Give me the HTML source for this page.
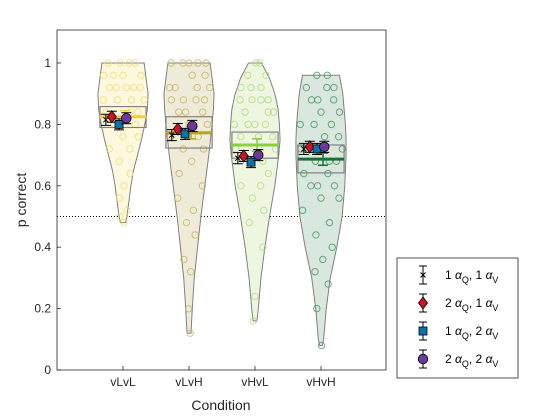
<!DOCTYPE html>
<html><head><meta charset="utf-8"><style>
body{margin:0;background:#fff;}
svg{display:block;font-family:"Liberation Sans",sans-serif;}
</style></head><body>
<svg id="c" width="560" height="420">
<rect x="0" y="0" width="560" height="420" fill="#fff"/>
<g id="plot"></g>
<rect x="57" y="30" width="329" height="340" fill="none" stroke="#262626" stroke-width="0.8"/>
<text x="26" y="200" font-size="14" fill="#262626" text-anchor="middle" transform="rotate(-90 26 200)">p correct</text>
<text x="221" y="410" font-size="14" fill="#262626" text-anchor="middle">Condition</text>
<g>
<rect x="397" y="258" width="121" height="120" fill="#fff" stroke="#262626" stroke-width="0.8"/>
<g id="leg"></g>
</g>
</svg>
<script>
const categories=["vLvL","vLvH","vHvL","vHvH"];
const meanLine=[0.825,0.773,0.733,0.687];
const boxTop=[0.858,0.825,0.775,0.733];
const boxBot=[0.79,0.723,0.69,0.642];
const s1=[0.815,0.765,0.69,0.72];
const s2=[0.825,0.785,0.697,0.727];
const s3=[0.80,0.769,0.677,0.72];
const s4=[0.82,0.795,0.70,0.727];
const errHalf=0.018;
const yTicks=[0,0.2,0.4,0.6,0.8,1];
const chance=0.5;
const vLevels=[[1.0,0.95,0.9,0.85,0.8,0.75,0.7,0.65,0.6,0.55,0.5,0.48],
[1.0,0.95,0.9,0.85,0.8,0.7,0.6,0.5,0.4,0.3,0.2,0.12],
[1.0,0.95,0.9,0.85,0.8,0.75,0.7,0.6,0.5,0.4,0.3,0.2,0.16],
[0.96,0.9,0.85,0.8,0.75,0.7,0.6,0.5,0.4,0.3,0.2,0.1,0.08]];
const vWidths=[[0.32,0.35,0.38,0.37,0.33,0.28,0.22,0.16,0.12,0.09,0.06,0.04],
[0.32,0.35,0.38,0.37,0.35,0.3,0.24,0.18,0.13,0.08,0.05,0.03],
[0.1,0.22,0.3,0.35,0.37,0.38,0.36,0.3,0.22,0.15,0.09,0.05,0.03],
[0.28,0.33,0.35,0.37,0.38,0.38,0.36,0.32,0.24,0.14,0.08,0.04,0.02]];
const ptsV=[[1,1,1,1,0.96,0.96,0.96,0.96,0.92,0.92,0.92,0.92,0.92,0.88,0.88,0.88,0.88,0.84,0.84,0.84,0.8,0.8,0.8,0.76,0.76,0.72,0.72,0.68,0.64,0.6,0.56,0.52,0.5,0.48],
[1,1,1,1,1,0.96,0.96,0.92,0.92,0.92,0.92,0.88,0.88,0.88,0.88,0.84,0.84,0.84,0.8,0.8,0.76,0.76,0.72,0.72,0.68,0.64,0.6,0.56,0.52,0.48,0.44,0.36,0.32,0.2,0.12],
[1,1,0.96,0.96,0.92,0.92,0.92,0.88,0.88,0.88,0.88,0.84,0.84,0.84,0.8,0.8,0.8,0.8,0.76,0.76,0.76,0.72,0.72,0.68,0.68,0.64,0.6,0.6,0.56,0.52,0.48,0.4,0.24,0.16],
[0.96,0.96,0.92,0.92,0.92,0.88,0.88,0.88,0.84,0.84,0.8,0.8,0.8,0.76,0.76,0.72,0.72,0.72,0.68,0.68,0.68,0.64,0.64,0.6,0.6,0.6,0.56,0.56,0.52,0.48,0.44,0.4,0.36,0.32,0.28,0.2,0.08]];
const jitter=[-0.25,0.1,-0.05,0.2,-0.15,0.28,0.0,-0.3,0.15,-0.1,0.25,0.05,-0.2,0.3,-0.28,0.12,-0.08,0.22];
const fills=["#fdf8de","#efebd9","#eef6e0","#d9e8de"];
const ptCol=["#f2dc70","#c8b460","#b0dc80","#4a9460"];
const mCol=["#f0d030","#b8a020","#8cd040","#1a7030"];
const X=v=>57+v*66;
const Y=v=>370-v*307;
const NS="http://www.w3.org/2000/svg";
const plot=document.getElementById('plot');
function mk(t,a,p){const e=document.createElementNS(NS,t);for(const k in a)e.setAttribute(k,a[k]);(p||plot).appendChild(e);return e;}
yTicks.forEach(t=>{
 const l=mk('line',{x1:57,x2:61,y1:Y(t),y2:Y(t),stroke:'#262626','stroke-width':0.8});
 
 
 const tx=mk('text',{x:51,y:Y(t)+4,'font-size':12,fill:'#262626','text-anchor':'end'});
 tx.textContent=String(t);
 
 
});
const ch=mk('line',{x1:57,x2:386,y1:Y(chance),y2:Y(chance),stroke:'#000','stroke-dasharray':'1 2','stroke-width':1});


categories.forEach((c,i)=>{
 const cx=i+1;
 const L=vLevels[i],W=vWidths[i];
 let d='M'+X(cx-W[0])+' '+Y(L[0]);
 for(let k=0;k<L.length;k++)d+=' L'+X(cx+W[k])+' '+Y(L[k]);
 for(let k=L.length-1;k>=0;k--)d+=' L'+X(cx-W[k])+' '+Y(L[k]);
 d+='Z';
 const v=mk('path',{d:d,fill:fills[i],stroke:'#808080','stroke-width':1});
 
 
 ptsV[i].forEach((p,k)=>{
  let j=jitter[(k+i*5)%jitter.length];
  let w=0.05;for(let q=0;q<L.length-1;q++){if(p<=L[q]&&p>=L[q+1]){w=W[q+1]+(W[q]-W[q+1])*(p-L[q+1])/(L[q]-L[q+1]);}}
  if(p>=L[0])w=W[0];
  const cc=mk('circle',{cx:X(cx+j*w/0.3*0.85),cy:Y(p),r:3.2,fill:'none',stroke:ptCol[i],'stroke-width':1,opacity:0.8});
  
  
 });
 const bx=mk('rect',{x:X(cx-0.35),y:Y(boxTop[i]),width:0.7*66,height:Y(boxBot[i])-Y(boxTop[i]),fill:'none',stroke:'#808080','stroke-width':1.2});
 
 
 const ml=mk('line',{x1:X(cx-0.35),x2:X(cx+0.35),y1:Y(meanLine[i]),y2:Y(meanLine[i]),stroke:mCol[i],'stroke-width':3});
 
 
 const ex=X(cx+0.03);
 const eb=mk('path',{d:`M${ex} ${Y(meanLine[i]+0.02)}V${Y(meanLine[i]-0.02)}M${ex-5} ${Y(meanLine[i]+0.02)}h10M${ex-5} ${Y(meanLine[i]-0.02)}h10`,stroke:mCol[i],'stroke-width':1.5,fill:'none'});
 
 
 const sers=[s1,s2,s3,s4];const offs=[-0.26,-0.17,-0.06,0.05];
 sers.forEach((s,k)=>{
  const px=X(cx+offs[k]),py=Y(s[i]);
  const e=mk('path',{d:`M${px} ${Y(s[i]+errHalf)}V${Y(s[i]-errHalf)}M${px-5} ${Y(s[i]+errHalf)}h10M${px-5} ${Y(s[i]-errHalf)}h10`,stroke:'#000','stroke-width':1,fill:'none'});
  
  
  drawMarker(k,px,py,plot);
 });
 const t=mk('text',{x:X(cx),y:386,'font-size':12,fill:'#262626','text-anchor':'middle'});
 t.textContent=c;
 
 
 const tk=mk('line',{x1:X(cx),x2:X(cx),y1:370,y2:366,stroke:'#262626','stroke-width':0.8});
 
 
});
function drawMarker(k,px,py,par){
 let m;
 if(k===0){m=mk('path',{d:`M${px-2.5} ${py-2.5}L${px+2.5} ${py+2.5}M${px-2.5} ${py+2.5}L${px+2.5} ${py-2.5}`,stroke:'#000','stroke-width':1},par);}
 else if(k===1){m=mk('path',{d:`M${px} ${py-6}L${px+4.5} ${py}L${px} ${py+6}L${px-4.5} ${py}Z`,fill:'#d0102a',stroke:'#000','stroke-width':0.8},par);}
 else if(k===2){m=mk('rect',{x:px-4,y:py-4,width:8,height:8,fill:'#0a70b0',stroke:'#000','stroke-width':0.8},par);}
 else {m=mk('circle',{cx:px,cy:py,r:4.8,fill:'#6a3a9a',stroke:'#000','stroke-width':0.8},par);}
 
 
}
const leg=document.getElementById('leg');
const labs=[["1","1"],["2","1"],["1","2"],["2","2"]];
labs.forEach((l,k)=>{
 const y=275+k*28;
 const e=mk('path',{d:`M423 ${y-9}V${y+9}M419 ${y-9}h8M419 ${y+9}h8`,stroke:'#000','stroke-width':1,fill:'none'},leg);
 
 
 drawMarker(k,423,y,leg);
 const t=mk('text',{x:445,y:y+4,'font-size':12,fill:'#000'},leg);
 t.innerHTML=`${l[0]} <tspan font-style="italic">α</tspan><tspan font-size="9" dy="4">Q</tspan><tspan dy="-4">, ${l[1]} </tspan><tspan font-style="italic">α</tspan><tspan font-size="9" dy="4">V</tspan>`;
 
 
});
</script>
</body></html>
